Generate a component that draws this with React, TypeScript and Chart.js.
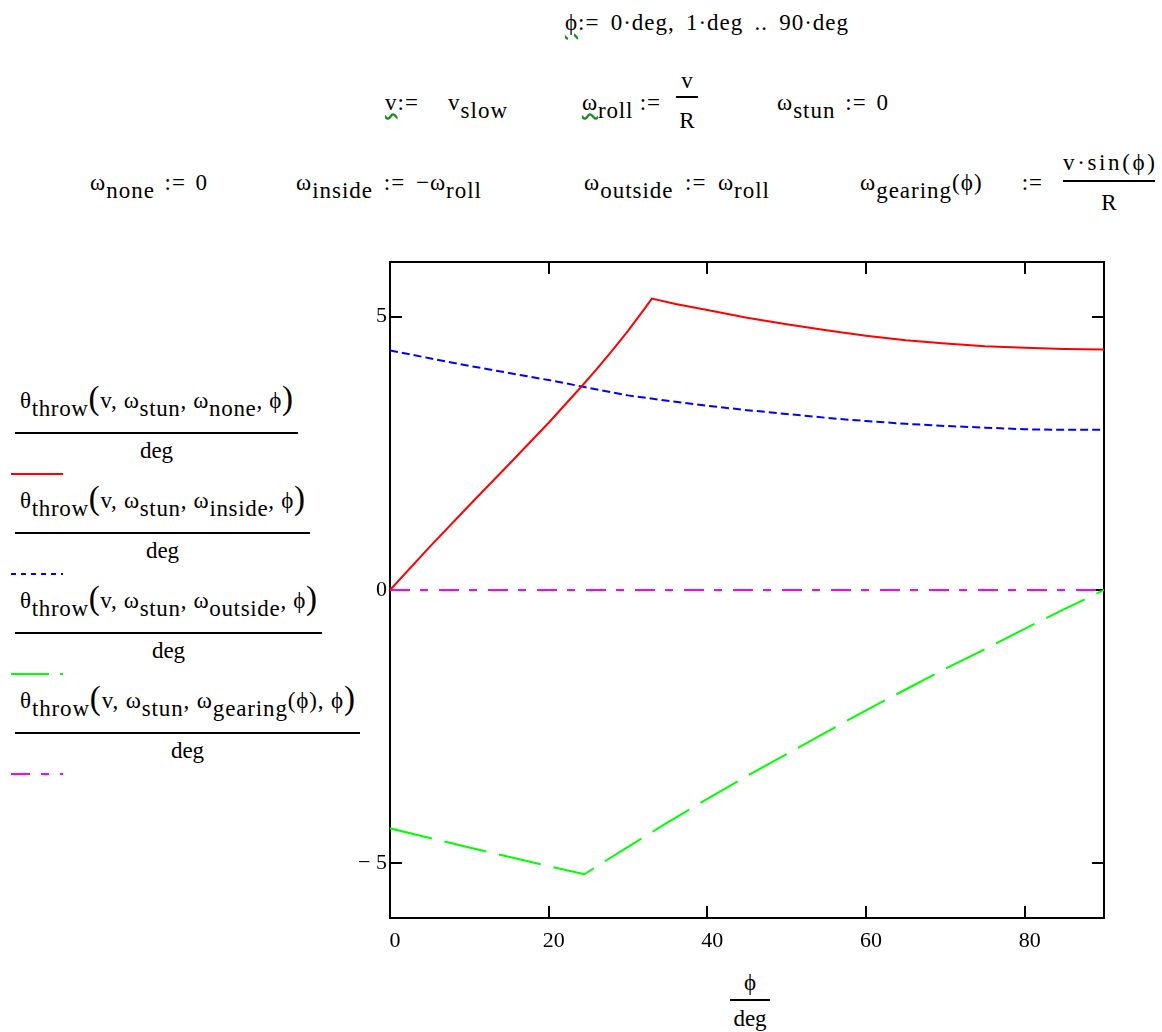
import React, { useEffect, useLayoutEffect, useRef } from 'react';
import { Chart, registerables } from 'chart.js';

Chart.register(...registerables);

// ---- data ----
const phiNone = [0, 5, 10, 15, 20, 22, 24, 26, 28, 30, 32, 33, 36, 40, 45, 50, 55, 60, 65, 70, 75, 80, 85, 90];
const thetaNone = [0, 0.79, 1.55, 2.3, 3.06, 3.38, 3.7, 4.03, 4.38, 4.74, 5.13, 5.33, 5.23, 5.12, 4.98, 4.86, 4.75, 4.65, 4.57, 4.51, 4.46, 4.43, 4.41, 4.4];
const phiInside = [0, 5, 10, 15, 20, 25, 30, 35, 40, 45, 50, 55, 60, 65, 70, 75, 80, 85, 90];
const thetaInside = [4.38, 4.24, 4.1, 3.97, 3.84, 3.7, 3.56, 3.46, 3.37, 3.29, 3.22, 3.15, 3.09, 3.04, 3.0, 2.97, 2.94, 2.93, 2.93];
const phiOutside = [0, 10, 20, 24.5, 27, 30, 35, 40, 45, 50, 55, 60, 65, 70, 75, 80, 85, 90];
const thetaOutside = [-4.36, -4.71, -5.05, -5.2, -4.97, -4.7, -4.25, -3.82, -3.4, -3.0, -2.6, -2.2, -1.82, -1.44, -1.08, -0.71, -0.35, 0];
const phiGearing = [0, 90];
const thetaGearing = [0, 0];

const xTicks = [0, 20, 40, 60, 80];
const yTicks = [-5, 0, 5];
const yTickLabels = ['\u2212 5', '0', '5'];

const legendSubs = ['none', 'inside', 'outside', 'gearing'];
const legendColors = ['#ff0000', '#0000ff', '#00ff00', '#ff00ff'];
const legendBarEnds = [298, 310, 322, 360];
const legendTextEnds = [293, 305, 317, 355];

const FONT = "'Liberation Serif', 'Times New Roman', serif";
const FS = 23;
const PHI = '\u03D5';

const toPts = (xs: number[], ys: number[]) => xs.map((x, i) => ({ x, y: ys[i] }));

const framePlugin = {
  id: 'frame',
  beforeDatasetsDraw(chart: any) {
    const { ctx, chartArea, scales } = chart;
    const { left, right, top, bottom } = chartArea;
    const x = scales.x;
    const y = scales.y;
    ctx.save();
    ctx.strokeStyle = '#000';
    ctx.lineWidth = 2;
    ctx.strokeRect(left, top, right - left, bottom - top);
    ctx.beginPath();
    xTicks.forEach((v) => {
      if (v === 0) return;
      const px = Math.round(x.getPixelForValue(v));
      ctx.moveTo(px, bottom);
      ctx.lineTo(px, bottom - 12);
      ctx.moveTo(px, top);
      ctx.lineTo(px, top + 12);
    });
    yTicks.forEach((v) => {
      const py = Math.round(y.getPixelForValue(v));
      ctx.moveTo(left, py);
      ctx.lineTo(left + 12, py);
      ctx.moveTo(right, py);
      ctx.lineTo(right - 12, py);
    });
    ctx.stroke();
    ctx.restore();
  },
};

// Text positioned by its baseline; optional target width w is met by widening
// letter spacing a little (max 1px) and putting the rest into the word gaps.
function T(props: { x: number; y: number; size?: number; center?: boolean; w?: number; children: any }) {
  const size = props.size ?? FS;
  const ref = useRef<HTMLDivElement | null>(null);
  useLayoutEffect(() => {
    const el = ref.current;
    if (!el || !props.w) return;
    el.style.letterSpacing = '0px';
    el.style.wordSpacing = '0px';
    const nat = el.getBoundingClientRect().width;
    const txt = el.textContent || '';
    const n = txt.length;
    const s = (txt.match(/[ \u00a0]/g) || []).length;
    const d = props.w - nat;
    if (n < 2) return;
    let ls = Math.min(1, d / (n - 1));
    let ws = 0;
    if (s === 0) ls = d / (n - 1);
    else ws = (d - ls * (n - 1)) / s;
    el.style.letterSpacing = `${ls}px`;
    el.style.wordSpacing = `${ws}px`;
  }, [props.w]);
  return (
    <div
      ref={ref}
      style={{
        position: 'absolute',
        left: props.x,
        top: props.y - size * 0.8375,
        fontFamily: FONT,
        fontSize: size,
        lineHeight: `${size}px`,
        whiteSpace: 'nowrap',
        color: '#000',
        transform: props.center ? 'translateX(-50%)' : undefined,
      }}
    >
      {props.children}
    </div>
  );
}

const Sub = (p: { children: any }) => (
  <span style={{ position: 'relative', top: 8, lineHeight: 0 }}>{p.children}</span>
);
const Big = (p: { children: any }) => (
  <span style={{ fontSize: 33, lineHeight: 0, position: 'relative', top: 1 }}>{p.children}</span>
);
const Wavy = (p: { children: any }) => (
  <span
    style={{
      textDecorationLine: 'underline',
      textDecorationStyle: 'wavy',
      textDecorationColor: '#1c8c1c',
      textUnderlineOffset: '3px',
    }}
  >
    {p.children}
  </span>
);
const Bar = (p: { x1: number; x2: number; y: number }) => (
  <div style={{ position: 'absolute', left: p.x1, top: p.y - 1, width: p.x2 - p.x1, height: 2, background: '#000' }} />
);

export default function App() {
  const canvasRef = useRef<HTMLCanvasElement | null>(null);

  useEffect(() => {
    const canvas = canvasRef.current;
    if (!canvas) return;
    const common = { pointRadius: 0, borderWidth: 2, tension: 0, fill: false };
    const chart = new Chart(canvas, {
      type: 'line',
      data: {
        datasets: [
          { ...common, data: toPts(phiNone, thetaNone), borderColor: '#ff0000' },
          { ...common, data: toPts(phiInside, thetaInside), borderColor: '#0000ff', borderDash: [8, 4] },
          { ...common, data: toPts(phiOutside, thetaOutside), borderColor: '#00ff00', borderDash: [43, 13] },
          { ...common, data: toPts(phiGearing, thetaGearing), borderColor: '#ff00ff', borderDash: [20, 10, 8, 11] },
        ],
      } as any,
      options: {
        animation: false,
        responsive: false,
        devicePixelRatio: 1,
        layout: { padding: { left: 0, top: 22, right: 36, bottom: 0 } },
        plugins: { legend: { display: false }, tooltip: { enabled: false } },
        scales: {
          x: {
            type: 'linear',
            min: 0,
            max: 90,
            afterBuildTicks: (s: any) => {
              s.ticks = xTicks.map((v) => ({ value: v }));
            },
            afterFit: (s: any) => {
              s.height = 62;
            },
            grid: { display: false, drawTicks: false },
            border: { display: false },
            ticks: {
              color: '#000',
              font: { family: FONT, size: 22 },
              padding: 10,
              labelOffset: 5,
              maxRotation: 0,
              autoSkip: false,
            },
          },
          y: {
            type: 'linear',
            min: -6,
            max: 6,
            afterBuildTicks: (s: any) => {
              s.ticks = yTicks.map((v) => ({ value: v }));
            },
            afterFit: (s: any) => {
              s.width = 90;
            },
            grid: { display: false, drawTicks: false },
            border: { display: false },
            ticks: {
              color: '#000',
              font: { family: FONT, size: 22 },
              padding: 3,
              autoSkip: false,
              callback: (v: any) => {
                const i = yTicks.indexOf(Number(v));
                return i >= 0 ? yTickLabels[i] : '';
              },
            },
          },
        },
      } as any,
      plugins: [framePlugin],
    });
    return () => chart.destroy();
  }, []);

  return (
    <div style={{ position: 'absolute', left: 0, top: 0, width: 1162, height: 1032, overflow: 'hidden', background: '#fff' }}>
      {/* definitions */}
      <T x={565} y={30} w={283}>
        <Wavy>{PHI}</Wavy>:= 0·deg, 1·deg .. 90·deg
      </T>
      <T x={385} y={110} w={122}>
        <Wavy>v</Wavy>:= v<Sub>slow</Sub>
      </T>
      <T x={582} y={110} w={78}>
        <Wavy>
          ω<Sub>roll</Sub>
        </Wavy>{' '}:=
      </T>
      <T x={687} y={88} center>v</T>
      <Bar x1={676} x2={698} y={97} />
      <T x={687} y={128} center>R</T>
      <T x={777} y={110} w={111}>
        ω<Sub>stun</Sub> := 0
      </T>

      <T x={90} y={190} w={117}>
        ω<Sub>none</Sub> := 0
      </T>
      <T x={296} y={190} w={185}>
        ω<Sub>inside</Sub> := −ω<Sub>roll</Sub>
      </T>
      <T x={584} y={190} w={185}>
        ω<Sub>outside</Sub> := ω<Sub>roll</Sub>
      </T>
      <T x={860} y={190} w={182}>
        ω<Sub>gearing</Sub>({PHI}) :=
      </T>
      <T x={1063} y={170} w={92}>
        v·sin({PHI})
      </T>
      <Bar x1={1063} x2={1155} y={181} />
      <T x={1109} y={210} center>R</T>

      {/* legend */}
      {legendSubs.map((s, k) => {
        const dy = 100 * k;
        return (
          <React.Fragment key={s}>
            <T x={20} y={408 + dy} w={legendTextEnds[k] - 20}>
              θ<Sub>throw</Sub>
              <Big>(</Big>v, ω<Sub>stun</Sub>, ω<Sub>{s}</Sub>
              {s === 'gearing' ? `(${PHI})` : ''}, {PHI}
              <Big>)</Big>
            </T>
            <Bar x1={15} x2={legendBarEnds[k]} y={433 + dy} />
            <T x={(15 + legendBarEnds[k]) / 2} y={458 + dy} center>
              deg
            </T>
            <svg style={{ position: 'absolute', left: 11, top: 471.5 + dy }} width={52} height={4}>
              <line
                x1={0}
                y1={2}
                x2={52}
                y2={2}
                stroke={legendColors[k]}
                strokeWidth={2}
                strokeDasharray={['none', '5,5', '38,11', '19,11,8,11'][k]}
              />
            </svg>
          </React.Fragment>
        );
      })}

      {/* x-axis title */}
      <T x={750} y={990} center>
        {PHI}
      </T>
      <Bar x1={730} x2={770} y={1000} />
      <T x={750} y={1026} center>
        deg
      </T>

      <canvas
        ref={canvasRef}
        width={840}
        height={740}
        style={{ position: 'absolute', left: 300, top: 240, width: 840, height: 740 }}
      />
    </div>
  );
}
